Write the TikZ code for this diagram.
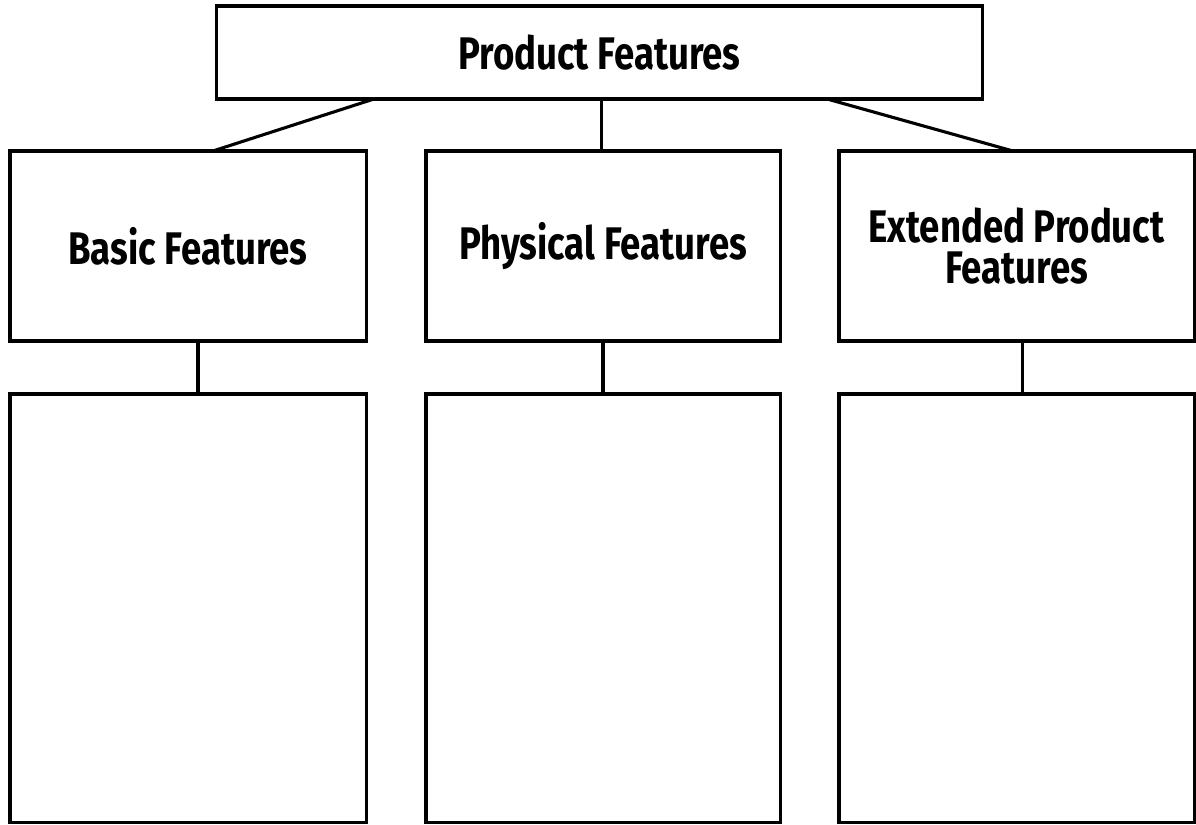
\documentclass[tikz,border=0pt]{standalone}
\usepackage{fontspec}
\setmainfont{Fira Sans}[FakeStretch=0.8]
\usetikzlibrary{calc}

\begin{document}
\begin{tikzpicture}[x=0.025cm, y=-0.025cm,
    box/.style={draw, line width=2.2pt, inner sep=0pt, outer sep=0pt, align=center},
    head/.style={box, font=\bfseries\fontsize{32.5}{34}\selectfont},
    group/.style={box, minimum height=4.75cm, font=\bfseries\fontsize{32.5}{29.5}\selectfont},
    listbox/.style={box, minimum height=10.7cm},
    link/.style={line width=2.2pt}]
        \useasboundingbox (0,0) rectangle (1196,824);

        % top
        \node[head, minimum width=19.125cm, minimum height=2.325cm] (top) at (599.5,52.5) {Product Features};

        % groups
        \node[group, minimum width=8.9cm] (basic) at (188,246) {Basic Features};
        \node[group, minimum width=8.85cm] (physical) at (603,246) {Physical Features};
        \node[group, minimum width=8.875cm] (extended) at (1016.5,246) {Extended Product\\Features};

        % empty lists
        \node[listbox, minimum width=8.9cm] (basicList) at (188,608) {};
        \node[listbox, minimum width=8.85cm] (physicalList) at (603,608) {};
        \node[listbox, minimum width=8.875cm] (extendedList) at (1016.5,608) {};

        \draw[link] ([xshift=-5.64cm]top.south) -- ([xshift=0.625cm]basic.north);
        \draw[link] ([xshift=0.05cm]top.south) -- ([xshift=0.05cm]top.south |- physical.north);
        \draw[link] ([xshift=5.69cm]top.south) -- ([xshift=-0.09cm]extended.north);

        \draw[link] ([xshift=0.25cm]basic.south) -- ([xshift=0.25cm]basicList.north);
        \draw[link] (physical.south) -- (physicalList.north);
        \draw[link] ([xshift=0.16cm]extended.south) -- ([xshift=0.16cm]extendedList.north);
      \end{tikzpicture}
\end{document}
